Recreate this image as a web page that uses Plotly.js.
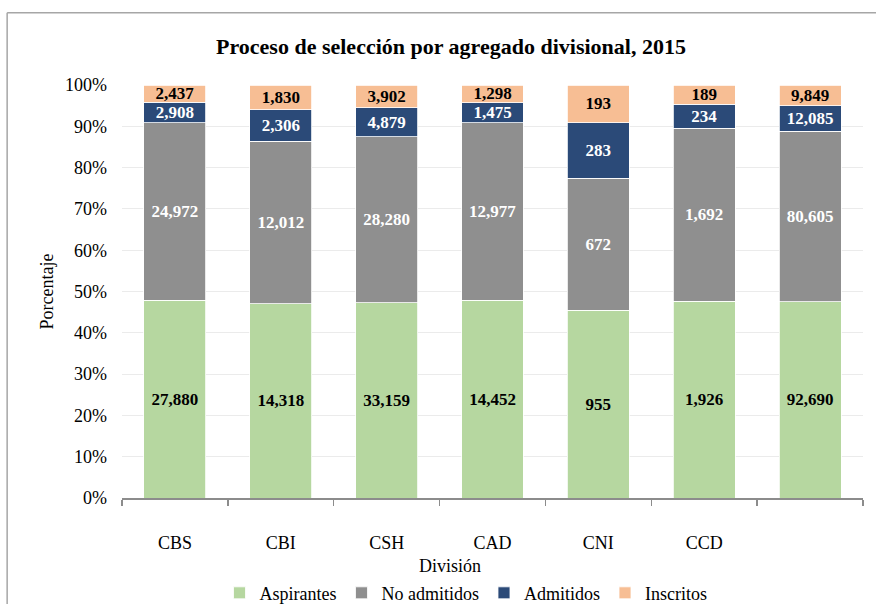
<!DOCTYPE html>
<html>
<head>
<meta charset="utf-8">
<script src="https://cdn.plot.ly/plotly-3.0.1.min.js"></script>
<style>html,body{margin:0;padding:0;background:#fff;}#chart{width:876px;height:604px;}</style>
</head>
<body>
<div id="chart"></div>
<script>
const divisiones = ['CBS', 'CBI', 'CSH', 'CAD', 'CNI', 'CCD', ' '];
const aspirantes = [27880, 14318, 33159, 14452, 955, 1926, 92690];
const noAdmitidos = [24972, 12012, 28280, 12977, 672, 1692, 80605];
const admitidos = [2908, 2306, 4879, 1475, 283, 234, 12085];
const inscritos = [2437, 1830, 3902, 1298, 193, 189, 9849];

const fontFam = 'Liberation Serif';
const fmt = v => v.toLocaleString('en-US');

function serie(name, vals, color, txtColor) {
  return {
    type: 'bar', name: name, x: divisiones, y: vals,
    marker: {color: color, line: {color: '#ffffff', width: 0.8}},
    text: vals.map(fmt), textposition: 'inside', insidetextanchor: 'middle',
    constraintext: 'none',
    textfont: {family: fontFam, size: 17, color: txtColor, weight: 'bold'},
    hoverinfo: 'name+text'
  };
}

const data = [
  serie('Aspirantes', aspirantes, '#B6D7A0', '#000000'),
  serie('No admitidos', noAdmitidos, '#8F8F8F', '#ffffff'),
  serie('Admitidos', admitidos, '#2B4A78', '#ffffff'),
  serie('Inscritos', inscritos, '#F7BE94', '#000000')
];

const layout = {
  width: 876, height: 604,
  margin: {l: 122, r: 13, t: 85, b: 106, autoexpand: false},
  barmode: 'stack', barnorm: 'percent', bargap: 0.415,
  paper_bgcolor: '#ffffff', plot_bgcolor: '#ffffff',
  font: {family: fontFam, size: 17, color: '#000000'},
  title: {text: '<b>Proceso de selección por agregado divisional, 2015</b>',
          font: {family: fontFam, size: 22, color: '#000000'},
          x: 451 / 876, xanchor: 'center', xref: 'container', y: 0.924, yanchor: 'middle'},
  xaxis: {
    type: 'category', showgrid: false, showline: true, linecolor: '#8C8C8C', linewidth: 1.5,
    ticks: 'outside', tickson: 'boundaries', ticklen: 6, tickcolor: '#8C8C8C', tickwidth: 1.5,
    ticklabelstandoff: 28,
    tickfont: {family: fontFam, size: 18, color: '#000000'},
    automargin: false
  },
  yaxis: {
    range: [0, 100], dtick: 10, ticksuffix: '%', showgrid: true, gridcolor: '#EBEBEB', gridwidth: 1,
    zeroline: false, showline: false, ticks: '', ticklabelstandoff: 14,
    tickfont: {family: fontFam, size: 18, color: '#000000'},
    title: {text: 'Porcentaje', font: {family: fontFam, size: 18, color: '#000000'}, standoff: 6},
    automargin: false
  },
  annotations: [
    {text: 'División', xref: 'paper', yref: 'paper', x: (450 - 122) / 741, y: (498 - 566) / 413,
     xanchor: 'center', yanchor: 'middle', showarrow: false,
     font: {family: fontFam, size: 18, color: '#000000'}}
  ],
  legend: {orientation: 'h', x: 466 / 876, xanchor: 'center', xref: 'container',
           y: 0.018, yanchor: 'middle', yref: 'container',
           font: {family: fontFam, size: 18, color: '#000000'}, traceorder: 'normal',
           itemwidth: 30, tracegroupgap: 0},
  showlegend: true,
  shapes: [
    {type: 'line', xref: 'paper', yref: 'paper', x0: -0.155, x1: -0.155, y0: 1.175, y1: -0.3,
     line: {color: '#A6A6A6', width: 1.5}},
    {type: 'line', xref: 'paper', yref: 'paper', x0: -0.155, x1: 1.1, y0: 1.175, y1: 1.175,
     line: {color: '#A6A6A6', width: 1.5}}
  ]
};

Plotly.newPlot('chart', data, layout, {displayModeBar: false, staticPlot: true});
</script>
</body>
</html>
